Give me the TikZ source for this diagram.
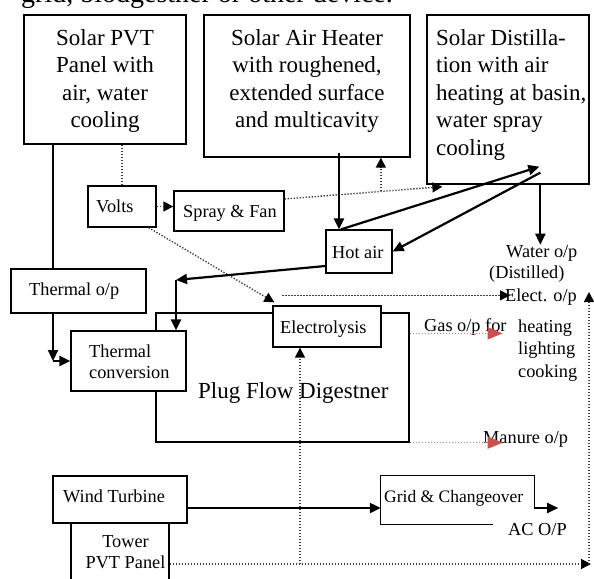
\documentclass[tikz,border=0pt]{standalone}
\usepackage{fontspec}
\setmainfont{Liberation Serif}
\usetikzlibrary{arrows.meta,calc}
\definecolor{redarr}{RGB}{200,80,77}
\definecolor{dotgray}{RGB}{60,60,60}
\tikzset{
  boxx/.style={draw=black, line width=1.3pt, fill=white, inner sep=0pt},
  big/.style={font=\fontsize{23}{27.5}\selectfont, inner sep=0pt},
  small/.style={font=\fontsize{18.3}{21}\selectfont, inner sep=0pt},
  thk/.style={line width=2.2pt, -{Triangle[length=11pt,width=10pt]}},
  dots/.style={line width=1.4pt, dash pattern=on 1.3pt off 1.7pt, draw=dotgray},
  dotarr/.style={dots, -{Triangle[length=10pt,width=10pt,color=black,fill=black]}},
  redline/.style={line width=1.4pt, dash pattern=on 1.3pt off 1.7pt, draw=redarr!80,
     -{Triangle[length=15pt,width=12pt,color=redarr,fill=redarr]}}
}
\begin{document}
\begin{tikzpicture}[x=1pt,y=-1pt]
\useasboundingbox (0,0) rectangle (594,578);
\clip (0,0) rectangle (594,578);
\fill[white] (0,0) rectangle (594,578);

% clipped header text (cut off in the reference as well)
\node[anchor=base west, inner sep=0pt, font=\fontsize{28}{30}\selectfont] (hdr) at (21,3) {grid, biodgestner or other device.};

% boxes
\node[boxx, minimum width=162pt, minimum height=129pt] (a) at (105,79.5) {};
\node[boxx, minimum width=206pt, minimum height=142pt] (b) at (307,86) {};
\node[boxx, minimum width=162pt, minimum height=169pt] (c) at (508,99.5) {};
\node[boxx, minimum width=68pt, minimum height=41pt] (v) at (122,206.5) {};
\node[boxx, minimum width=110pt, minimum height=40pt] (sf) at (229,211) {};
\node[boxx, minimum width=66pt, minimum height=43pt] (ha) at (359,251.5) {};
\node[boxx, minimum width=135pt, minimum height=44pt] (to) at (78.5,291) {};
\node[boxx, minimum width=253pt, minimum height=129pt] (pf) at (282.5,377.5) {};
\node[boxx, minimum width=115pt, minimum height=60pt] (tc) at (128.5,361) {};
\node[boxx, minimum width=108pt, minimum height=41pt] (el) at (327,326.5) {};
\node[boxx, minimum width=98pt, minimum height=77pt] (tw) at (120,561.5) {};
\node[boxx, minimum width=134pt, minimum height=47pt] (wt) at (120,499.5) {};
\node[inner sep=0pt, minimum width=153pt, minimum height=48pt] (gr) at (457.5,500) {};

% texts
\node[big, align=center, anchor=north] (aT) at (105,29.3) {Solar PVT\\Panel with\\air, water\\cooling};
\node[big, align=center, anchor=north] (bT) at (307,29.3) {Solar Air Heater\\with roughened,\\extended surface\\and multicavity};
\node[big, align=left, anchor=north west] (cT) at (436,29.3) {Solar Distilla-\\tion with air\\heating at basin,\\water spray\\cooling};
\node[small, anchor=base west] (vT) at (96,212) {Volts};
\node[small, anchor=base west] (sfT) at (183,217) {Spray \& Fan};
\node[small, anchor=base west] (haT) at (332,258) {Hot air};
\node[small, anchor=base west] (toT) at (29,295) {Thermal o/p};
\node[small, align=left, anchor=north west] (tcT) at (89,344.4) {Thermal\\conversion};
\node[small, anchor=base west] (elT) at (280,333) {Electrolysis};
\node[big, anchor=base west] (pfT) at (198,398) {Plug Flow Digestner};
\node[small, anchor=base west] (wtT) at (63,502) {Wind Turbine};
\node[small, align=center, anchor=north] (twT) at (125.5,535.8) {Tower\\PVT Panel};
\node[small, anchor=base west, font=\fontsize{17.5}{21}\selectfont] (grT) at (384,502) {Grid \& Changeover};
\node[small, anchor=base west] (ac) at (508,535) {AC O/P};
\node[small, anchor=base west] (wo) at (506,257) {Water o/p};
\node[small, anchor=base west] (dist) at (489,278) {(Distilled)};
\node[small, anchor=base west] (eo) at (505,301) {Elect. o/p};
\node[small, anchor=base west] (gas) at (424,331) {Gas o/p for};
\node[small, align=left, anchor=north west, font=\fontsize{18.3}{22.5}\selectfont] (use) at (518,319.4) {heating\\lighting\\cooking};
\node[small, anchor=base west] (man) at (483,443) {Manure o/p};

% coordinates
\coordinate (k1) at (53,361);
\coordinate (k2) at (176,280);
\coordinate (k4) at (589,564);
\coordinate (k5) at (300,564);

% PVT -> thermal o/p -> thermal conversion
\draw[line width=1.7pt] ([xshift=-52pt]a.south) -- ([xshift=-25.5pt]to.north);
\draw[thk] ([xshift=-25.5pt]to.south) -- (k1);
\draw[thk] (k1) -- (tc.west);

% dotted network
\draw[dots] (v.north |- a.south) -- (v.north);
\draw[dotarr] (v.east) -- (v.east -| sf.west);
\draw[dotarr] ([yshift=12pt]sf.east) -- coordinate[pos=0.61] (br) ([xshift=16pt,yshift=-2pt]c.south west);
\draw[dotarr] (br) -- (br |- b.south);
\draw[dotarr] ([xshift=-8pt]v.south east) -- ([xshift=2pt,yshift=3pt]el.north west);
\draw[dotarr, shorten >=5pt] ([xshift=10pt,yshift=10pt]el.north west) -- ([xshift=10pt,yshift=10pt]el.north west -| eo.west);

% thick air loop
\draw[thk] ([xshift=32pt,yshift=5pt]b.south) -- ([xshift=-20pt]ha.north);
\draw[thk] ([xshift=-18pt]ha.north) -- ([xshift=113pt,yshift=18pt]c.south west);
\draw[thk] ([xshift=114pt,yshift=12pt]c.south west) -- (ha.east);
\draw[thk] ([xshift=114pt]c.south west) -- ([xshift=114pt]c.south west |- wo.north);
\draw[thk] ([yshift=-14.5pt]ha.west) -- (k2);
\draw[thk] (k2) -- (k2 |- tc.north);

% digester outputs
\draw[redline] ([yshift=-21pt]pf.north east) -- ++(93,0);
\draw[redline] (pf.south east) -- ++(93,0);

% wind / grid
\draw[thk] ([yshift=-8.5pt]wt.east) -- ([yshift=-8.5pt]wt.east -| gr.west);
\draw[line width=1.3pt] ([xshift=112pt]gr.south west) -- (gr.south west) -- (gr.north west) -- (gr.north east) -- ([yshift=-8pt]gr.east) coordinate (k3);
\draw[thk] (k3) -- ++(24,0);

% tower dotted lines
\draw[dotarr] ([yshift=-2.5pt]tw.east) -- ([xshift=2pt]k4);
\draw[dotarr] (k4) -- ++(0,-272);
\draw[dotarr] (k5) -- ([xshift=-27pt]el.south);
\end{tikzpicture}
\end{document}
